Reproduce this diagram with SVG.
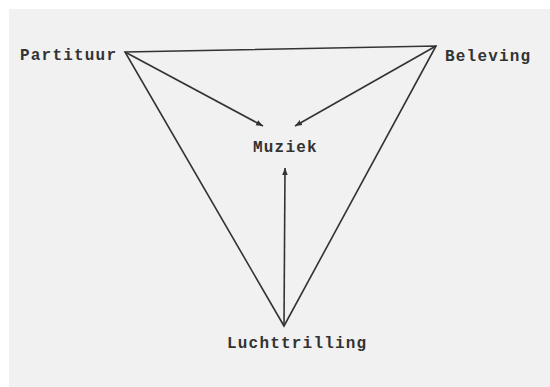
<svg xmlns="http://www.w3.org/2000/svg" width="550" height="387" viewBox="0 0 550 387">
<defs>
<style>
.lbl{font-family:"Liberation Mono","Courier New",monospace;font-weight:bold;font-size:16px;letter-spacing:1.2px;fill:#333}
.edge{stroke:#333;stroke-width:1.6;fill:none}
</style>
<marker id="ah" viewBox="0 0 10 10" refX="10" refY="5" markerWidth="7" markerHeight="7" orient="auto" markerUnits="userSpaceOnUse">
<path d="M0,1 L10,5 L0,9 z" fill="#333"/>
</marker>
</defs>
<rect x="9" y="9" width="541" height="378" fill="#f1f1f1"/>
<g id="connectors">
<path class="edge" d="M125,52 L436,46 L284,326 Z"/>
<line class="edge" x1="125" y1="52" x2="263" y2="126" marker-end="url(#ah)"/>
<line class="edge" x1="436" y1="46" x2="295" y2="126" marker-end="url(#ah)"/>
<line class="edge" x1="284" y1="326" x2="285" y2="168" marker-end="url(#ah)"/>
</g>
<g id="partituur"><text class="lbl" x="20" y="60">Partituur</text></g>
<g id="beleving"><text class="lbl" x="445" y="61">Beleving</text></g>
<g id="muziek"><text class="lbl" x="253" y="152">Muziek</text></g>
<g id="luchttrilling"><text class="lbl" x="227" y="348">Luchttrilling</text></g>
</svg>
